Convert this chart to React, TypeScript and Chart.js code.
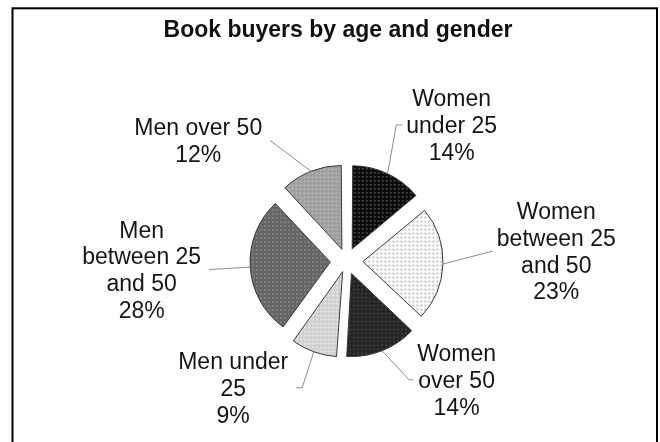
import React, { useEffect, useRef } from "react";
import { Chart, registerables } from "chart.js";

Chart.register(...registerables);

const TITLE = "Book buyers by age and gender";
const categories = [
  "Women under 25",
  "Women between 25 and 50",
  "Women over 50",
  "Men under 25",
  "Men between 25 and 50",
  "Men over 50",
];
const labelLines = [
  ["Women", "under 25"],
  ["Women", "between 25", "and 50"],
  ["Women", "over 50"],
  ["Men under", "25"],
  ["Men", "between 25", "and 50"],
  ["Men over 50"],
];
const shares = [14, 23, 14, 9, 28, 12];
const fillBase = ["#0a0a0a", "#fcfcfc", "#232323", "#d0d0d0", "#666666", "#9e9e9e"];
const fillDot = ["#3e3e3e", "#c8c8c8", "#3c3c3c", "#e6e6e6", "#7e7e7e", "#b4b4b4"];

const FONT = '"Liberation Sans", Arial, Helvetica, sans-serif';
const EXPLODE = 16.5;
const LINE_H = 26.7;
// label block placement relative to each slice's mid direction (degrees turn, distance from pie centre)
const LABEL_PLACEMENT = [
  { turn: 12.5, dist: 172, elbow: 6 },
  { turn: -4.5, dist: 210, elbow: 0 },
  { turn: -21.2, dist: 162, elbow: 4 },
  { turn: 22, dist: 170, elbow: 6 },
  { turn: 1.2, dist: 205, elbow: 0 },
  { turn: -29.3, dist: 191, elbow: 0 },
];

function makePattern(base: string, dot: string): CanvasPattern | string {
  const c = document.createElement("canvas");
  c.width = 4;
  c.height = 4;
  const g = c.getContext("2d");
  if (!g) return base;
  g.fillStyle = base;
  g.fillRect(0, 0, 4, 4);
  g.fillStyle = dot;
  g.fillRect(0, 0, 2, 2);
  return g.createPattern(c, "repeat") || base;
}

const decorPlugin = {
  id: "decor",
  beforeDraw(chart: any) {
    const { ctx } = chart;
    ctx.save();
    ctx.fillStyle = "#ffffff";
    ctx.fillRect(0, 0, chart.width, chart.height);
    ctx.strokeStyle = "#000000";
    ctx.lineWidth = 2;
    ctx.strokeRect(12.5, 8.3, 644.5, 560);
    ctx.fillStyle = "#111111";
    ctx.font = `bold 23px ${FONT}`;
    ctx.textAlign = "center";
    ctx.textBaseline = "alphabetic";
    ctx.fillText(TITLE, 338, 37);
    ctx.restore();
  },
  afterDatasetsDraw(chart: any) {
    const { ctx } = chart;
    const meta = chart.getDatasetMeta(0);
    ctx.save();
    meta.data.forEach((arc: any, i: number) => {
      const { x, y, startAngle, endAngle, outerRadius } = arc.getProps(
        ["x", "y", "startAngle", "endAngle", "outerRadius"],
        true
      );
      const mid = (startAngle + endAngle) / 2;
      const circ = endAngle - startAngle;
      const off = (arc.options.offset || 0) / 4;
      const shift = off * (2 - Math.sin(Math.min(Math.PI, circ)));
      const sx = x + Math.cos(mid) * (outerRadius + shift);
      const sy = y + Math.sin(mid) * (outerRadius + shift);
      const place = LABEL_PLACEMENT[i];
      const la = mid + (place.turn * Math.PI) / 180;
      const bx = x + Math.cos(la) * place.dist;
      const by = y + Math.sin(la) * place.dist;
      const lines = [...labelLines[i], `${shares[i]}%`];
      ctx.font = `23px ${FONT}`;
      const hw = Math.max(...lines.map((l) => ctx.measureText(l).width)) / 2;
      const side = bx > x ? 1 : -1;
      const ex = bx - side * (hw + (side > 0 ? 4 : 8));
      const ey = by;
      const elx = ex - side * place.elbow;
      ctx.strokeStyle = "#8c8c8c";
      ctx.lineWidth = 1;
      ctx.beginPath();
      ctx.moveTo(sx, sy);
      ctx.lineTo(elx, ey);
      ctx.lineTo(ex, ey);
      ctx.stroke();
      ctx.fillStyle = "#151515";
      ctx.textAlign = "center";
      ctx.textBaseline = "alphabetic";
      const first = by - ((lines.length - 1) / 2) * LINE_H;
      lines.forEach((l, k) => {
        ctx.fillText(l, bx, first + k * LINE_H + 8.2);
      });
    });
    ctx.restore();
  },
};

export default function App() {
  const ref = useRef<HTMLCanvasElement | null>(null);
  useEffect(() => {
    if (!ref.current) return;
    const patterns = fillBase.map((b, i) => makePattern(b, fillDot[i]));
    const chart = new Chart(ref.current, {
      type: "pie",
      data: {
        labels: categories,
        datasets: [
          {
            data: shares,
            backgroundColor: patterns as any,
            borderColor: "#3a3a3a",
            borderWidth: 1,
            radius: 80,
            offset: (c: any) => {
              const data = c.dataset.data as number[];
              const total = data.reduce((a, b) => a + b, 0);
              const circ = (data[c.dataIndex] / total) * Math.PI * 2;
              const fix = 1 - Math.sin(Math.min(Math.PI, circ));
              return (EXPLODE * 4) / (1 + fix);
            },
          } as any,
        ],
      },
      options: {
        responsive: false,
        animation: false,
        events: [],
        layout: { padding: { left: 46.5, right: 13.5, top: 100, bottom: 20 } },
        plugins: {
          legend: { display: false },
          title: { display: false },
          tooltip: { enabled: false },
        },
      },
      plugins: [decorPlugin],
    });
    return () => chart.destroy();
  }, []);
  return (
    <div style={{ position: "fixed", left: 0, top: 0, width: 660, height: 442 }}>
      <canvas ref={ref} width={660} height={442} />
    </div>
  );
}
